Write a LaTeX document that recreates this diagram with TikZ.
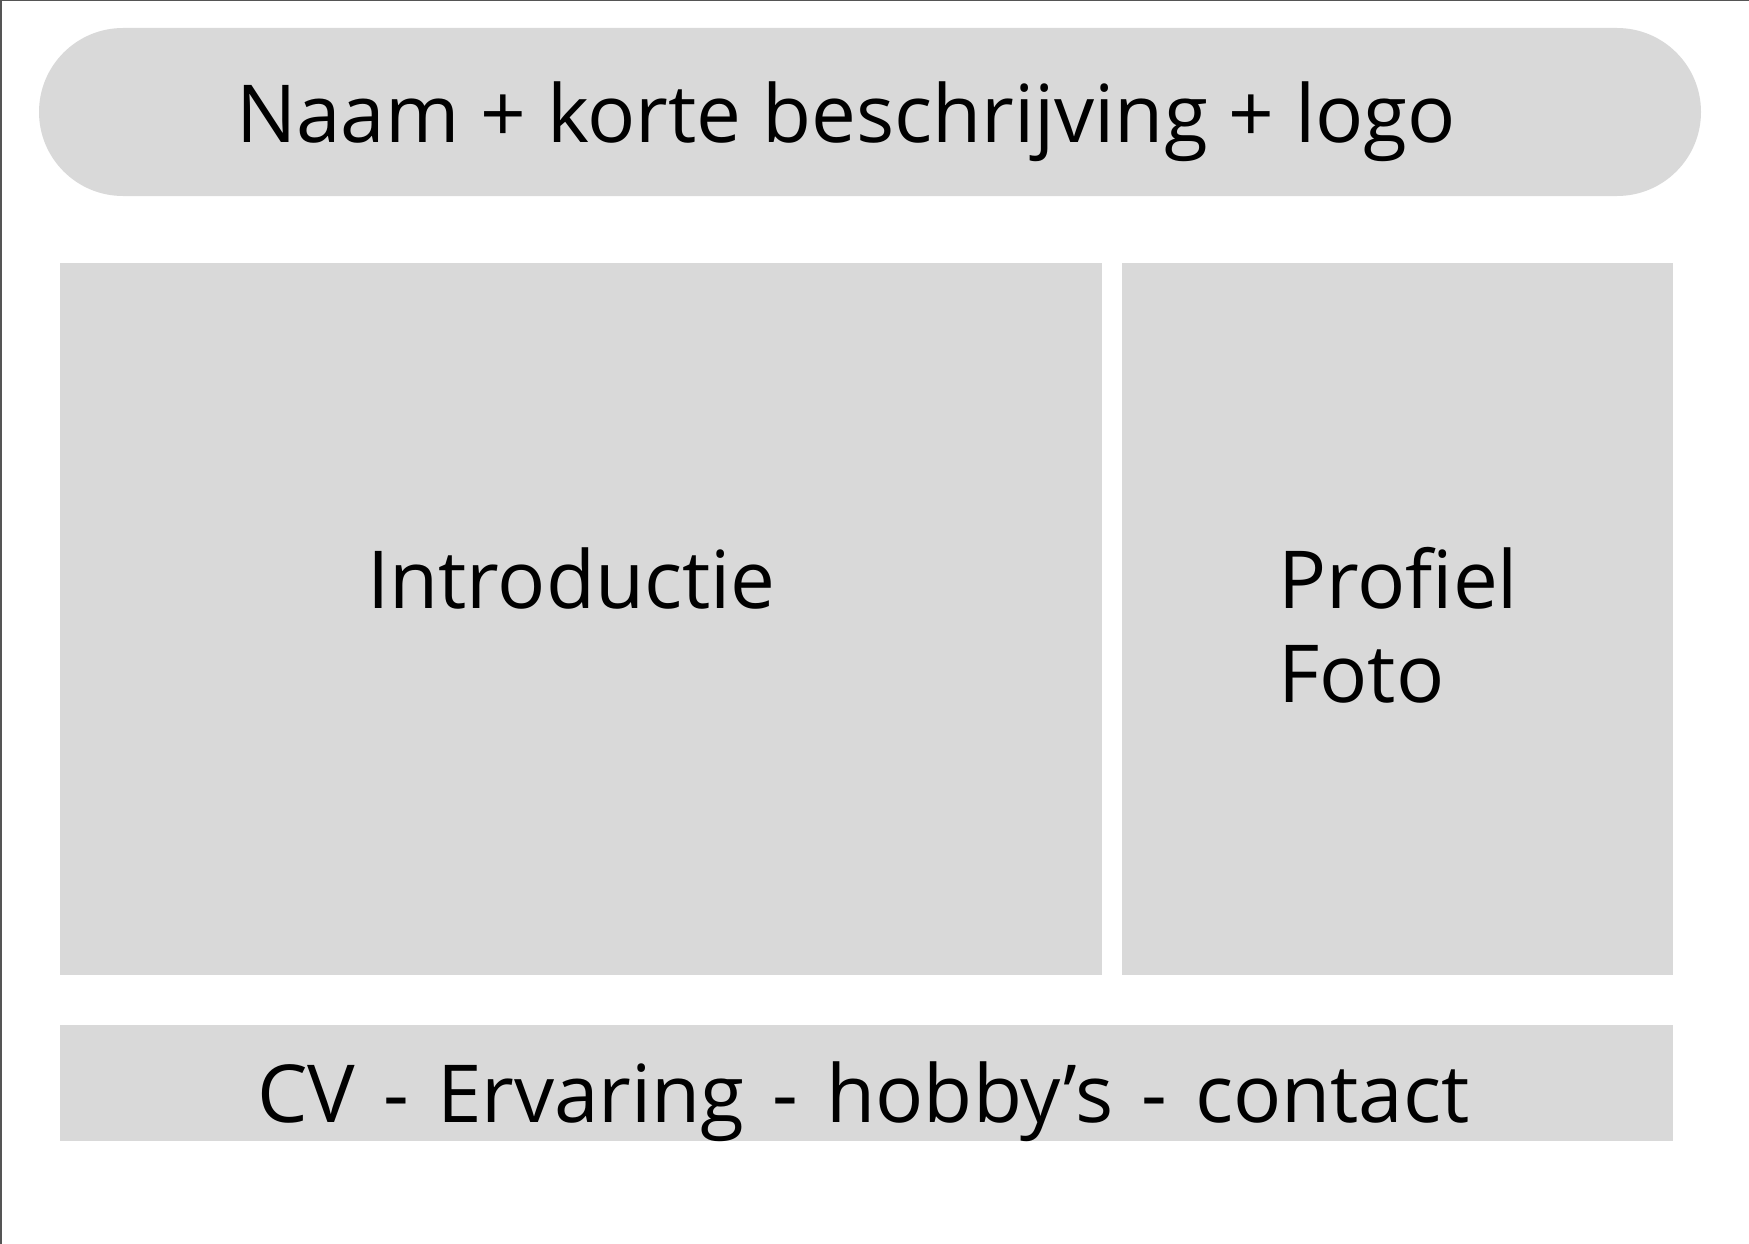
\documentclass[tikz,border=0pt]{standalone}
\usepackage{fontspec}
\setmainfont{Open Sans}
\begin{document}
\begin{tikzpicture}[x=1pt,y=-1pt,
	block/.style={fill=boxgray,draw=none,inner sep=0pt},
	pill/.style={block,rounded corners=84pt},
	lbl/.style={inner sep=0pt,font=\fontsize{80}{94}\selectfont}]
	\definecolor{boxgray}{HTML}{D9D9D9}
	\definecolor{edgegray}{HTML}{555555}
	\useasboundingbox (0,0) rectangle (1749,1244);

	% Draw page edges
	\draw[edgegray,line width=1.5pt] (0.75,1244) -- (0.75,0.75) -- (1749,0.75);

	% Draw header
	\node[pill,minimum width=1662pt,minimum height=168pt] (header) at (870,112) {};
	\node[lbl,anchor=base] (headertext) at (846,143) {Naam + korte beschrijving + logo};

	% Draw content blocks
	\node[block,minimum width=1042pt,minimum height=712pt] (intro) at (581,619) {};
	\node[lbl,anchor=base] (introtext) at (571.5,608) {Introductie};
	\node[block,minimum width=551pt,minimum height=712pt] (photo) at (1397.5,619) {};
	\node[lbl,anchor=base west,align=left] (phototext) at (1278,702) {Profiel\\Foto};

	% Draw footer
	\node[block,minimum width=1613pt,minimum height=116pt] (footer) at (866.5,1083) {};
	\node[lbl,anchor=base] (footertext) at (863.5,1122) {\spaceskip=28pt CV - Ervaring - hobby’s - contact};
\end{tikzpicture}
\end{document}
